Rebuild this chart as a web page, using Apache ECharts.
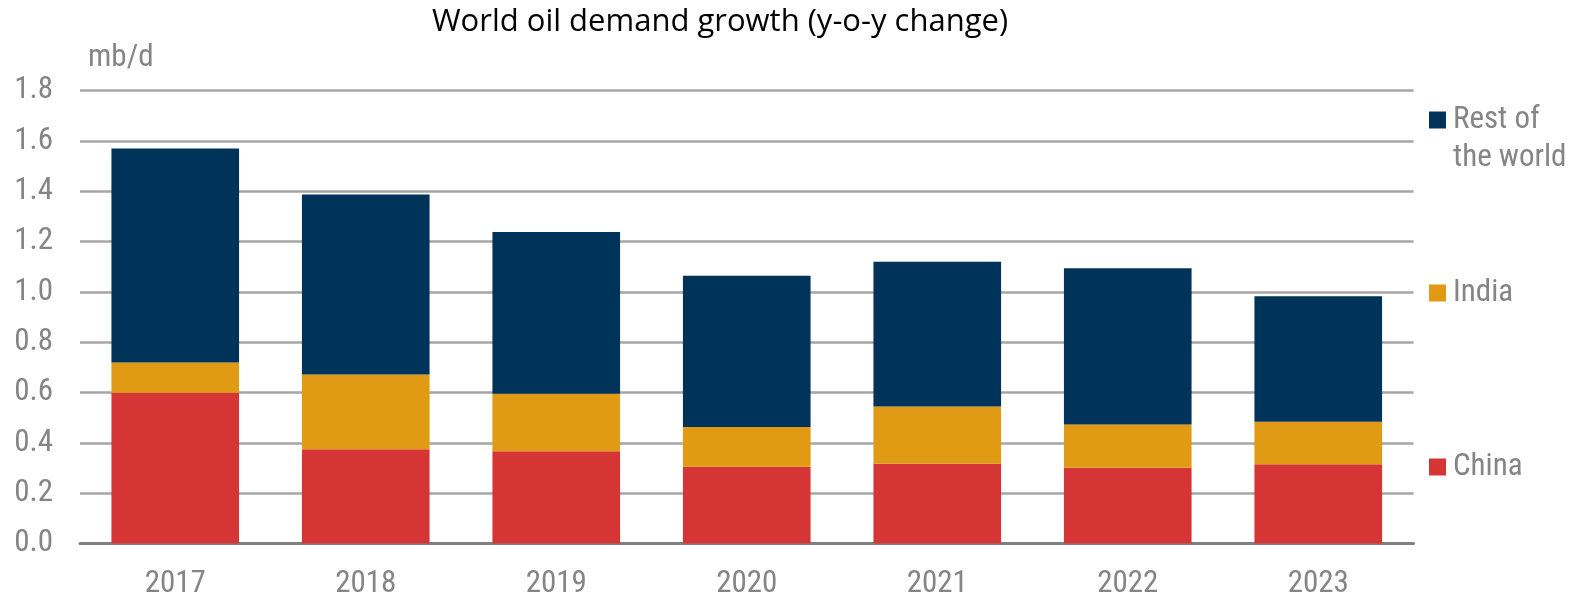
<!DOCTYPE html>
<html>
<head>
<meta charset="utf-8">
<script src="https://cdn.jsdelivr.net/npm/echarts@6/dist/echarts.min.js"></script>
<style>html,body{margin:0;padding:0;background:#fff;}#c{width:1576px;height:598px;}</style>
</head>
<body>
<div id="c"></div>
<script>
var categories = ['2017','2018','2019','2020','2021','2022','2023'];
var china = [0.600, 0.375, 0.367, 0.305, 0.317, 0.301, 0.315];
var india = [0.120, 0.297, 0.229, 0.158, 0.228, 0.172, 0.169];
var restOfWorld = [0.850, 0.715, 0.642, 0.602, 0.575, 0.621, 0.499];
var yTicks = { min: 0, max: 1.8, interval: 0.2 };

var narrow = '"Roboto Condensed", "Liberation Sans Narrow", sans-serif';
var gray = '#858585';
var fs = 31;
var chart = echarts.init(document.getElementById('c'));
function leg(name, top, fmt) {
  return {
    data: [name], top: top, left: 1429, orient: 'vertical',
    itemWidth: 17, itemHeight: 17, itemGap: 0, icon: 'rect',
    selectedMode: false, padding: 0,
    formatter: fmt || '{name}',
    textStyle: { color: gray, fontFamily: narrow, fontSize: fs, lineHeight: 38, padding: [0,0,0,2] }
  };
}
chart.setOption({
  animation: false,
  title: {
    text: 'World oil demand growth (y-o-y change)',
    left: 715, top: 2, textAlign: 'center',
    textStyle: { color: '#000', fontFamily: '"Open Sans", "Noto Sans", sans-serif', fontWeight: 'normal', fontSize: 31 }
  },
  legend: [
    leg('Rest of the world', 63, '\nRest of\nthe world'),
    leg('India', 274),
    leg('China', 448)
  ],
  grid: { left: 80, right: 162.5, top: 90.7, bottom: 54.4, outerBoundsMode: 'none', containLabel: false },
  xAxis: {
    type: 'category', data: categories,
    axisTick: { show: false },
    axisLine: { lineStyle: { color: '#808080', width: 3 } },
    axisLabel: { color: gray, fontFamily: narrow, fontSize: fs, margin: 25 }
  },
  yAxis: {
    type: 'value', min: yTicks.min, max: yTicks.max, interval: yTicks.interval,
    name: 'mb/d', nameLocation: 'end', nameGap: 17,
    nameTextStyle: { color: gray, fontFamily: narrow, fontSize: fs, align: 'left', padding: [0,0,0,8] },
    axisLine: { show: false }, axisTick: { show: false },
    splitLine: { lineStyle: { color: '#A6A6A6', width: 2.5 } },
    axisLabel: { color: gray, fontFamily: narrow, fontSize: fs, margin: 27,
      formatter: function (v) { return v.toFixed(1); } }
  },
  series: [
    { name: 'China', type: 'bar', stack: 't', data: china, barCategoryGap: '33%',
      itemStyle: { color: '#D53635' } },
    { name: 'India', type: 'bar', stack: 't', data: india,
      itemStyle: { color: '#E09A14' } },
    { name: 'Rest of the world', type: 'bar', stack: 't', data: restOfWorld,
      itemStyle: { color: '#00335A' } }
  ]
});
</script>
</body>
</html>
